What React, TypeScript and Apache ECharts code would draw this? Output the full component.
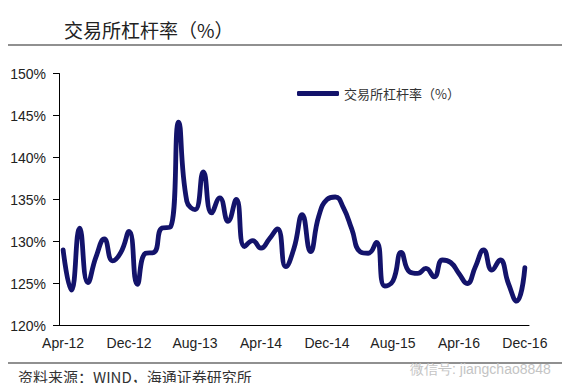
import React, { useEffect, useRef } from "react";
import * as echarts from "echarts";

const monthNames = ["Jan", "Feb", "Mar", "Apr", "May", "Jun", "Jul", "Aug", "Sep", "Oct", "Nov", "Dec"];
// Monthly categories, Apr-12 .. Dec-16
const categories: string[] = [];
for (let y = 2012; y <= 2016; y++) {
  for (let m = 0; m < 12; m++) {
    if (y === 2012 && m < 3) continue;
    categories.push(`${monthNames[m]}-${String(y).slice(2)}`);
  }
}

const seriesName = "交易所杠杆率（%）";
const leverage = [
  129.0, 124.2, 131.6, 125.1, 128.2, 130.3, 127.7, 128.7, 131.2, 124.9,
  128.6, 128.7, 131.6, 131.7, 144.2, 134.8, 133.8, 138.3, 133.4, 135.2,
  132.4, 135.0, 129.4, 130.1, 129.2, 130.3, 131.5, 127.0, 129.2, 133.2,
  128.8, 133.0, 135.0, 135.3, 134.0, 131.5, 128.8, 128.6, 129.9, 124.7,
  125.3, 128.7, 126.4, 126.2, 126.8, 125.8, 127.8, 127.5, 126.2, 125.0,
  127.0, 129.0, 126.6, 127.8, 125.0, 122.9, 126.9,
];

const yTicks = { min: 120, max: 150, interval: 5 };

export default function App() {
  const ref = useRef<HTMLDivElement>(null);
  useEffect(() => {
    if (!ref.current) return;
    const chart = echarts.init(ref.current, undefined, { renderer: "svg" });
    const font = "Liberation Sans, Arial, sans-serif";
    const cjk = "'Noto Sans CJK SC', sans-serif";
    chart.setOption({
      animation: false,
      backgroundColor: "#ffffff",
      title: {
        text: "交易所杠杆率（%）",
        left: 59,
        top: 15,
        textStyle: { fontFamily: cjk, fontSize: 19, fontWeight: "normal", color: "#222" },
      },
      legend: {
        data: [seriesName],
        left: 292,
        top: 82,
        icon: "roundRect",
        itemWidth: 42,
        itemHeight: 5,
        itemGap: 5,
        textStyle: { fontFamily: cjk, fontSize: 13, color: "#333" },
      },
      grid: { left: 59, right: 47, top: 73.5, bottom: 65.5, containLabel: false },
      xAxis: {
        type: "category",
        data: categories,
        boundaryGap: true,
        axisLine: { lineStyle: { color: "#000", width: 1 } },
        axisTick: { interval: 7, length: 5, lineStyle: { color: "#000" } },
        axisLabel: {
          interval: 7,
          margin: 10,
          fontFamily: font,
          fontSize: 14,
          color: "#222",
        },
        splitLine: { show: false },
      },
      yAxis: {
        type: "value",
        min: yTicks.min,
        max: yTicks.max,
        interval: yTicks.interval,
        axisLine: { show: true, lineStyle: { color: "#000", width: 1 } },
        axisTick: { show: true, length: 6, lineStyle: { color: "#000" } },
        axisLabel: {
          formatter: (v: number) => `${v}%`,
          margin: 13,
          fontFamily: font,
          fontSize: 14,
          color: "#222",
        },
        splitLine: { show: false },
      },
      series: [
        {
          name: seriesName,
          type: "line",
          data: leverage,
          smooth: 0.5,
          symbol: "none",
          lineStyle: { color: "#13136b", width: 4.8, cap: "round", join: "round" },
          itemStyle: { color: "#13136b" },
        },
      ],
      graphic: [
        { type: "line", shape: { x1: 5, y1: 7, x2: 562, y2: 7 }, style: { stroke: "#222", lineWidth: 1.2 } },
        { type: "line", shape: { x1: 5, y1: 45, x2: 562, y2: 45 }, style: { stroke: "#222", lineWidth: 1.2 } },
        { type: "line", shape: { x1: 5, y1: 363, x2: 562, y2: 363 }, style: { stroke: "#222", lineWidth: 1.2 } },
        {
          type: "text",
          left: 18,
          top: 369,
          style: { text: "资料来源：WIND，海通证券研究所", fontFamily: cjk, fontSize: 15, fill: "#333" },
        },
        {
          type: "text",
          left: 410,
          top: 362,
          style: { text: "微信号: jiangchao8848", fontFamily: font, fontSize: 14, fill: "#c4c4c4" },
        },
      ],
    });
    return () => chart.dispose();
  }, []);
  return <div ref={ref} style={{ width: 576, height: 391, margin: -8 }} />;
}
